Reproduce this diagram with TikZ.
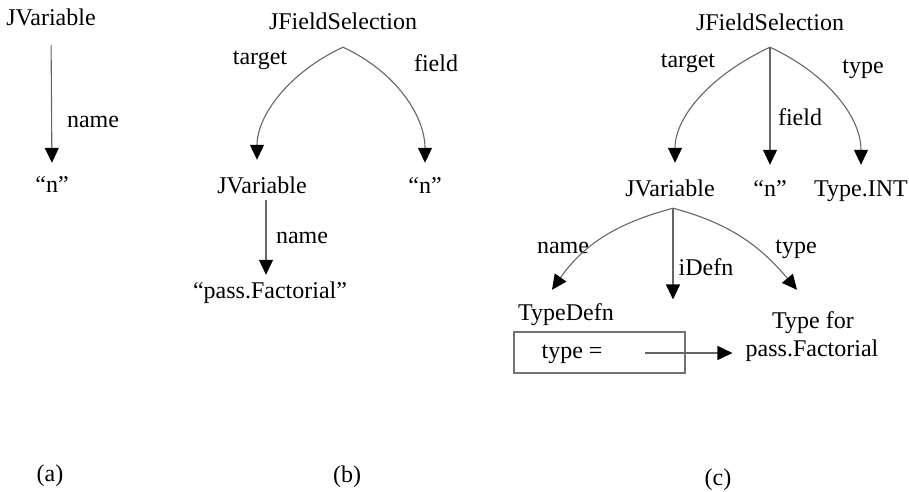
\documentclass[tikz,border=0pt]{standalone}
\usepackage{fontspec}
\setmainfont{Liberation Serif}
\usetikzlibrary{arrows.meta}

\begin{document}
\begin{tikzpicture}[
  x=1pt, y=1pt,
  font=\fontsize{24}{28}\selectfont,
  lbl/.style={inner sep=0pt, text height=16pt, text depth=5pt, anchor=base},
  link/.style={draw=black!60, line width=1.1pt, -{Triangle[length=15pt, width=14pt, color=black]}},
  boxed/.style={draw=black!55, line width=1.1pt, minimum width=171pt, minimum height=41pt, inner sep=0pt}
]
  \useasboundingbox (0,0) rectangle (909,491);

  % (a)
  \node[lbl] (jvA) at (51,465) {JVariable};
  \node[lbl] (nA) at (52,299) {“n”};
  \node[lbl] (nmA) at (93,363) {name};
  \draw[link, shorten <=14pt, shorten >=13pt] (jvA.south) -- (nA.north);

  % (b)
  \node[lbl] (fsB) at (343,461) {JFieldSelection};
  \node[lbl] (jvB) at (262,298) {JVariable};
  \node[lbl] (nB) at (425,298) {“n”};
  \node[lbl] (pfB) at (270,193) {“pass.Factorial”};
  \node[lbl] (tgtB) at (260,426) {target};
  \node[lbl] (fldB) at (436,419) {field};
  \node[lbl] (nmB) at (302,248) {name};
  \coordinate (apB) at ([yshift=-12pt]fsB.south);
  \draw[link, shorten >=17pt] (apB) to[out=205, in=90] ([xshift=-5pt]jvB.north);
  \draw[link, shorten >=14pt] (apB) to[out=-25, in=90] (nB.north);
  \draw[link, shorten <=2pt, shorten >=7pt] ([xshift=4pt]jvB.south) -- ([xshift=4pt]jvB.south |- pfB.north);

  % (c)
  \node[lbl] (fsC) at (770,460) {JFieldSelection};
  \node[lbl] (jvC) at (670,295) {JVariable};
  \node[lbl] (nC) at (770,295) {“n”};
  \node[lbl] (tiC) at (861,295) {Type.INT};
  \node[lbl] (tgtC) at (688,423) {target};
  \node[lbl] (fdC) at (800,366) {field};
  \node[lbl] (tyC) at (863,417) {type};
  \node[lbl] (nmC) at (563,238) {name};
  \node[lbl] (idC) at (706,216) {iDefn};
  \node[lbl] (ty2C) at (796,238) {type};
  \node[lbl] (tdC) at (566,171) {TypeDefn};
  \node[boxed] (tdbox) at (599.5,138.5) {};
  \node[lbl] (teq) at (572,133) {type =};
  \node[lbl] (tf1) at (813,163) {Type for};
  \node[lbl] (tf2) at (812,135) {pass.Factorial};
  \coordinate (apC) at ([yshift=-11pt]fsC.south);
  \coordinate (apC2) at ([shift={(3pt,-7pt)}]jvC.south);
  \coordinate (slot) at (645,138);
  \draw[link, shorten >=17pt] (apC) to[out=205, in=90] ([xshift=5pt]jvC.north);
  \draw[link, shorten >=15pt] (apC) -- (nC.north);
  \draw[link, shorten >=15pt] (apC) to[out=-25, in=90] (tiC.north);
  \draw[link] (apC2) to[out=195, in=55] ([shift={(-14pt,14pt)}]tdC.north);
  \draw[link, shorten >=32pt] (apC2) -- (apC2 |- tdbox.north);
  \draw[link] (apC2) to[out=-15, in=130] ([shift={(-16pt,22pt)}]tf1.north);
  \draw[link, shorten >=13pt] (slot) -- (slot -| tf2.west);

  % captions
  \node[lbl] (capA) at (50,10) {(a)};
  \node[lbl] (capB) at (347,9) {(b)};
  \node[lbl] (capC) at (718,6) {(c)};
\end{tikzpicture}
\end{document}
